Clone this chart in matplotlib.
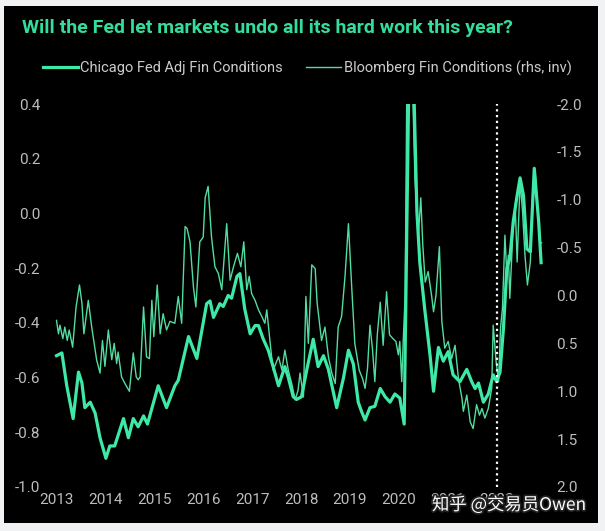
import matplotlib
matplotlib.use('Agg')
from matplotlib import pyplot as plt
from matplotlib.patches import Rectangle
import matplotlib.patheffects as pe

# Chicago Fed adjusted financial conditions (lhs)
chi_dates = [2013.00, 2013.11, 2013.21, 2013.34, 2013.45, 2013.52, 2013.58, 2013.69, 2013.79, 2013.89,
             2014.01, 2014.09, 2014.19, 2014.37, 2014.47, 2014.57, 2014.67, 2014.78, 2014.86, 2015.08,
             2015.25, 2015.42, 2015.49, 2015.70, 2015.87, 2016.00, 2016.07, 2016.14, 2016.21, 2016.34,
             2016.41, 2016.51, 2016.58, 2016.69, 2016.75, 2016.85, 2016.96, 2017.06, 2017.13, 2017.23,
             2017.33, 2017.43, 2017.54, 2017.67, 2017.74, 2017.84, 2017.91, 2018.01, 2018.12, 2018.25,
             2018.35, 2018.46, 2018.56, 2018.73, 2018.87, 2018.97, 2019.07, 2019.17, 2019.24, 2019.31,
             2019.41, 2019.51, 2019.62, 2019.72, 2019.82, 2019.92, 2020.02, 2020.11, 2020.24, 2020.37,
             2020.43, 2020.53, 2020.64, 2020.71, 2020.81, 2020.91, 2021.01, 2021.11, 2021.25, 2021.39,
             2021.49, 2021.56, 2021.63, 2021.73, 2021.83, 2021.93, 2022.00, 2022.07, 2022.14, 2022.21,
             2022.27, 2022.34, 2022.41, 2022.48, 2022.55, 2022.62, 2022.69, 2022.77, 2022.86, 2022.91]
chi_vals = [-0.52, -0.51, -0.63, -0.75, -0.58, -0.62, -0.71, -0.69, -0.73, -0.82,
            -0.895, -0.85, -0.85, -0.75, -0.82, -0.75, -0.78, -0.74, -0.77, -0.63,
            -0.71, -0.63, -0.61, -0.45, -0.53, -0.40, -0.33, -0.32, -0.38, -0.33,
            -0.34, -0.30, -0.31, -0.23, -0.22, -0.35, -0.44, -0.41, -0.41, -0.46,
            -0.50, -0.56, -0.63, -0.56, -0.60, -0.67, -0.68, -0.67, -0.57, -0.46,
            -0.56, -0.52, -0.57, -0.71, -0.60, -0.50, -0.55, -0.69, -0.725, -0.755,
            -0.71, -0.705, -0.64, -0.67, -0.69, -0.66, -0.675, -0.77, 0.95, 0.006,
            -0.18, -0.35, -0.52, -0.65, -0.49, -0.54, -0.505, -0.59, -0.615, -0.57,
            -0.615, -0.64, -0.62, -0.69, -0.66, -0.59, -0.615, -0.58, -0.42, -0.20,
            -0.165, -0.03, 0.055, 0.13, 0.065, -0.13, -0.14, 0.165, -0.03, -0.18]

# Bloomberg financial conditions (rhs, inverted)
bbg_dates = [2013.00, 2013.04, 2013.07, 2013.13, 2013.17, 2013.22, 2013.26, 2013.33, 2013.40, 2013.47,
             2013.52, 2013.56, 2013.65, 2013.72, 2013.82, 2013.89, 2013.94, 2013.99, 2014.06, 2014.13,
             2014.18, 2014.23, 2014.26, 2014.33, 2014.40, 2014.49, 2014.57, 2014.63, 2014.67, 2014.71,
             2014.78, 2014.84, 2014.90, 2014.95, 2014.99, 2015.06, 2015.12, 2015.18, 2015.25, 2015.32,
             2015.42, 2015.49, 2015.56, 2015.63, 2015.67, 2015.73, 2015.80, 2015.85, 2015.93, 2016.00,
             2016.04, 2016.10, 2016.17, 2016.24, 2016.31, 2016.38, 2016.48, 2016.55, 2016.62, 2016.70,
             2016.77, 2016.83, 2016.89, 2016.94, 2016.99, 2017.06, 2017.13, 2017.20, 2017.26, 2017.30,
             2017.37, 2017.43, 2017.54, 2017.61, 2017.67, 2017.74, 2017.81, 2017.88, 2017.94, 2017.98,
             2018.05, 2018.10, 2018.15, 2018.22, 2018.29, 2018.33, 2018.42, 2018.49, 2018.56, 2018.63,
             2018.70, 2018.76, 2018.83, 2018.90, 2018.97, 2019.04, 2019.10, 2019.19, 2019.26, 2019.31,
             2019.36, 2019.41, 2019.46, 2019.51, 2019.56, 2019.62, 2019.68, 2019.75, 2019.81, 2019.88,
             2019.94, 2019.99, 2020.02, 2020.06, 2020.09, 2020.13, 2020.17, 2020.22, 2020.26, 2020.33,
             2020.40, 2020.45, 2020.49, 2020.54, 2020.60, 2020.67, 2020.71, 2020.76, 2020.83, 2020.88,
             2020.94, 2021.01, 2021.08, 2021.15, 2021.22, 2021.29, 2021.32, 2021.39, 2021.46, 2021.52,
             2021.59, 2021.65, 2021.70, 2021.76, 2021.83, 2021.90, 2021.93, 2021.99, 2022.04, 2022.08,
             2022.12, 2022.17, 2022.21, 2022.24, 2022.27, 2022.33, 2022.38, 2022.42, 2022.48, 2022.53,
             2022.58, 2022.63, 2022.69, 2022.74, 2022.79, 2022.83, 2022.89, 2022.92]
bbg_vals = [0.26, 0.40, 0.31, 0.45, 0.33, 0.47, 0.36, 0.54, 0.12, -0.11,
            0.08, 0.40, 0.05, 0.33, 0.67, 0.81, 0.47, 0.74, 0.36, 0.67,
            0.50, 0.71, 0.59, 0.85, 0.92, 1.00, 0.60, 0.85, 0.88, 0.85,
            0.12, 0.64, 0.66, 0.05, 0.43, -0.11, 0.40, 0.19, 0.36, 0.27,
            0.29, 0.01, 0.29, -0.72, -0.70, -0.56, -0.09, 0.12, -0.56, -0.61,
            -1.02, -1.14, -0.61, -0.30, -0.23, -0.06, -0.75, -0.16, -0.30, -0.44,
            -0.30, -0.56, -0.06, -0.20, -0.02, 0.05, 0.15, 0.22, 0.29, 0.15,
            0.50, 0.78, 0.64, 0.78, 0.57, 0.78, 0.92, 1.09, 0.99, 0.81,
            1.06, 0.01, 0.50, -0.32, -0.28, 0.08, 0.47, 0.33, 0.64, 0.81,
            0.92, 0.33, 0.22, -0.20, -0.75, -0.06, 0.50, 0.78, 0.87, 0.97,
            0.76, 0.31, 0.55, 0.90, 0.41, 0.07, 0.52, -0.04, 0.41, 0.45,
            0.48, 0.62, 0.48, 0.90, 0.48, 0.00, -2.6, -3.1, -2.6, -1.22,
            -0.63, -1.02, -0.53, -0.14, -0.25, 0.00, 0.17, 0.00, -0.51, 0.27,
            0.55, 0.48, 0.66, 0.52, 0.87, 1.07, 1.21, 1.04, 1.32, 1.39,
            1.14, 1.25, 1.18, 1.28, 1.18, 0.97, 0.31, 0.69, 0.90, 0.34,
            0.13, -0.63, -0.21, -0.42, 0.03, -0.63, -0.95, -0.35, -1.19, -0.88,
            -0.42, -0.11, -0.35, -1.12, -1.29, -0.95, -0.56, -0.55]

year_ticks = list(range(2013, 2023))
left_ticks = [0.4, 0.2, 0.0, -0.2, -0.4, -0.6, -0.8, -1.0]
right_ticks = [-2.0, -1.5, -1.0, -0.5, 0.0, 0.5, 1.0, 1.5, 2.0]

green = '#3ee8a6'
green2 = '#52dda0'
grey = '#bdbdbd'

fig = plt.figure(figsize=(6.05, 5.31), dpi=100, facecolor='#f1f2f4')
fig.patches.append(Rectangle((4/605, 8/531), 594/605, 517/531, transform=fig.transFigure,
                             facecolor='black', edgecolor='none', zorder=-10))

ax = fig.add_axes([50/605, 44/531, 498/605, 383/531])
ax2 = ax.twinx()
ax.set_zorder(ax2.get_zorder() + 1)
ax.patch.set_visible(False)
ax2.patch.set_visible(False)

l1, = ax.plot(chi_dates, chi_vals, color=green, lw=2.3, solid_joinstyle='round')
l2, = ax2.plot(bbg_dates, bbg_vals, color=green2, lw=1.0)
ax.axvline(2022.0, color='white', lw=1.6, linestyle=(0, (1, 1.6)))

ax.set_xlim(2012.867, 2023.051)
ax.set_ylim(-1.0, 0.4)
ax2.set_ylim(2.0, -2.0)
ax.set_xticks(year_ticks)
ax.set_yticks(left_ticks)
ax2.set_yticks(right_ticks)
ax.set_yticklabels(['%.1f' % v for v in left_ticks])
ax2.set_yticklabels(['%.1f' % v for v in right_ticks])

for a in (ax, ax2):
    for s in a.spines.values():
        s.set_visible(False)
    a.tick_params(length=0, colors=grey, labelsize=11)
    for lab in a.get_xticklabels() + a.get_yticklabels():
        lab.set_fontfamily('Roboto')
ax.tick_params(axis='y', pad=7)
ax.tick_params(axis='x', pad=4)
ax2.tick_params(axis='y', pad=6)

fig.text(22/605, 1 - 28/531, 'Will the Fed let markets undo all its hard work this year?',
         color='#34dd9b', fontsize=14, fontweight='bold', family='Roboto', va='center')

leg = fig.legend([l1, l2], ['Chicago Fed Adj Fin Conditions', 'Bloomberg Fin Conditions (rhs, inv)'],
                 loc='center left', bbox_to_anchor=(36/605, 1 - 68/531), ncol=2, frameon=False,
                 handlelength=2.4, handletextpad=0.15, columnspacing=1.6, borderpad=0,
                 prop={'family': 'Roboto', 'size': 10.5})
for t in leg.get_texts():
    t.set_color('#cccccc')

fig.text(432/605, 1 - 505/531, '知乎 @交易员Owen', color='white', fontsize=12.5,
         family=['Noto Sans CJK SC', 'DejaVu Sans'], va='center',
         path_effects=[pe.withStroke(linewidth=2.5, foreground='#222222')])

fig.savefig('out.png', dpi=100, facecolor=fig.get_facecolor())
